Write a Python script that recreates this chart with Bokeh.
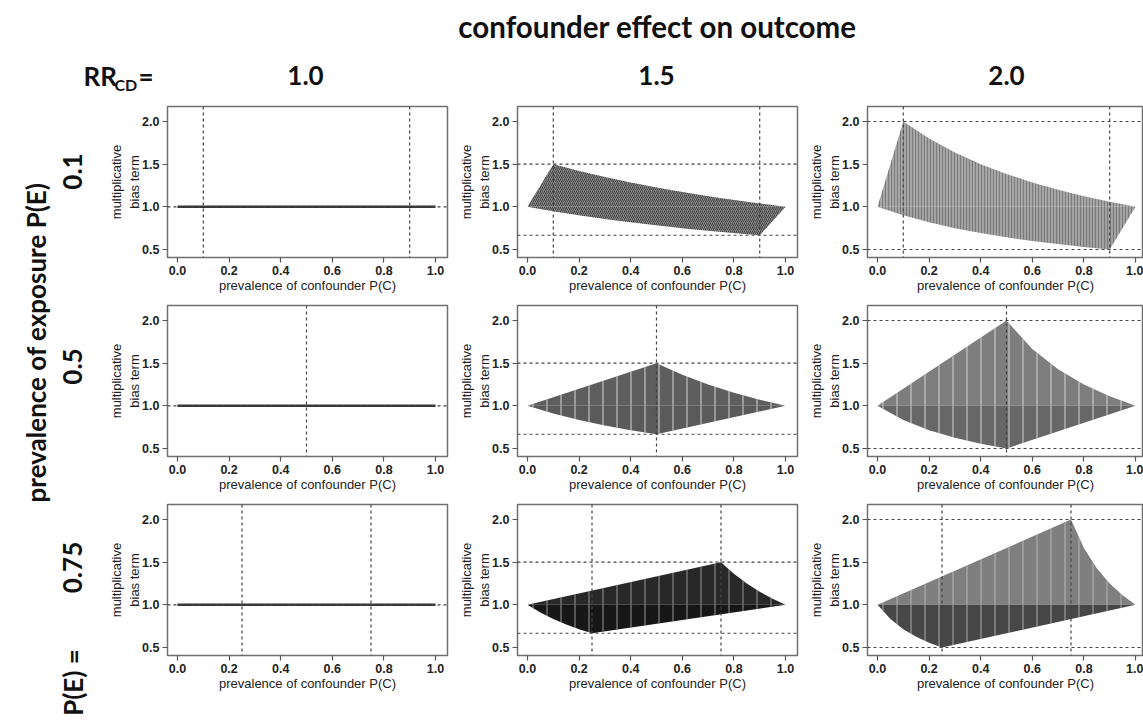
from bokeh.plotting import figure
from bokeh.models import Range1d, Span, FixedTicker, NumeralTickFormatter
from bokeh.layouts import column, row
from bokeh.embed import file_html
from bokeh.resources import INLINE
from bokeh.core.properties import value
import math

# ---------------- data ----------------
PE_LABELS = ["0.1", "0.5", "0.75"]          # prevalence of exposure P(E), rows
RR_LABELS = ["1.0", "1.5", "2.0"]           # RR_CD, columns
X_TICKS = [0.0, 0.2, 0.4, 0.6, 0.8, 1.0]
Y_TICKS = [0.5, 1.0, 1.5, 2.0]

# dashed reference lines: vertical per row, horizontal per column
VLINES = [[0.1, 0.9], [0.5], [0.25, 0.75]]
HLINES = [[1.0], [1.5, 0.667], [2.0, 0.5]]

# no-bias level
NO_BIAS = 1.0

# RR_CD = 1.0 : the bias term is a flat line
flat_x = [0.0, 1.0]
flat_y = [1.0, 1.0]

# P(E) = 0.1
up_x_r1 = [0.0, 0.1, 0.2, 0.3, 0.4, 0.5, 0.6, 0.7, 0.8, 0.9, 1.0]
up_r1_rr15 = [1.0, 1.5, 1.421, 1.35, 1.286, 1.227, 1.174, 1.125, 1.08, 1.038, 1.0]
up_r1_rr20 = [1.0, 2.0, 1.8, 1.636, 1.5, 1.385, 1.286, 1.2, 1.125, 1.059, 1.0]
lo_x_r1 = [0.0, 0.1, 0.2, 0.3, 0.4, 0.5, 0.6, 0.7, 0.8, 0.9, 1.0]
lo_r1_rr15 = [1.0, 0.947, 0.9, 0.857, 0.818, 0.783, 0.75, 0.72, 0.692, 0.667, 1.0]
lo_r1_rr20 = [1.0, 0.9, 0.818, 0.75, 0.692, 0.643, 0.6, 0.563, 0.529, 0.5, 1.0]

# P(E) = 0.5
up_x_r2 = [0.0, 0.5, 0.6, 0.7, 0.8, 0.9, 1.0]
up_r2_rr15 = [1.0, 1.5, 1.364, 1.25, 1.154, 1.071, 1.0]
up_r2_rr20 = [1.0, 2.0, 1.667, 1.429, 1.25, 1.111, 1.0]
lo_x_r2 = [0.0, 0.1, 0.2, 0.3, 0.4, 0.5, 1.0]
lo_r2_rr15 = [1.0, 0.909, 0.833, 0.769, 0.714, 0.667, 1.0]
lo_r2_rr20 = [1.0, 0.833, 0.714, 0.625, 0.556, 0.5, 1.0]

# P(E) = 0.75
up_x_r3 = [0.0, 0.75, 0.8, 0.85, 0.9, 0.95, 1.0]
up_r3_rr15 = [1.0, 1.5, 1.364, 1.25, 1.154, 1.071, 1.0]
up_r3_rr20 = [1.0, 2.0, 1.667, 1.429, 1.25, 1.111, 1.0]
lo_x_r3 = [0.0, 0.05, 0.1, 0.15, 0.2, 0.25, 1.0]
lo_r3_rr15 = [1.0, 0.909, 0.833, 0.769, 0.714, 0.667, 1.0]
lo_r3_rr20 = [1.0, 0.833, 0.714, 0.625, 0.556, 0.5, 1.0]

REGIONS = {
    (0, 1): (up_x_r1, up_r1_rr15, lo_x_r1, lo_r1_rr15),
    (0, 2): (up_x_r1, up_r1_rr20, lo_x_r1, lo_r1_rr20),
    (1, 1): (up_x_r2, up_r2_rr15, lo_x_r2, lo_r2_rr15),
    (1, 2): (up_x_r2, up_r2_rr20, lo_x_r2, lo_r2_rr20),
    (2, 1): (up_x_r3, up_r3_rr15, lo_x_r3, lo_r3_rr15),
    (2, 2): (up_x_r3, up_r3_rr20, lo_x_r3, lo_r3_rr20),
}

# ---------------- styles ----------------
# (upper part fill, lower part fill, hatch options)
STYLE = {
    (0, 1): ("#8a8a8a", "#888888", dict(hatch_pattern="/", hatch_color="#2a2a2a", hatch_scale=4, hatch_weight=1.0, hatch_alpha=0.75)),
    (0, 2): ("#a6a6a6", "#a2a2a2", dict(hatch_pattern="|", hatch_color="#3a3a3a", hatch_scale=3, hatch_weight=0.8, hatch_alpha=0.5)),
    (1, 1): ("#5e5e5e", "#5a5a5a", dict(hatch_pattern="|", hatch_color="#d8d8d8", hatch_scale=14, hatch_weight=1.2, hatch_alpha=0.8)),
    (1, 2): ("#7e7e7e", "#676767", dict(hatch_pattern="|", hatch_color="#d8d8d8", hatch_scale=14, hatch_weight=1.2, hatch_alpha=0.8)),
    (2, 1): ("#282828", "#171717", dict(hatch_pattern="|", hatch_color="#9a9a9a", hatch_scale=14, hatch_weight=1.2, hatch_alpha=0.8)),
    (2, 2): ("#7f7f7f", "#474747", dict(hatch_pattern="|", hatch_color="#c8c8c8", hatch_scale=14, hatch_weight=1.1, hatch_alpha=0.7)),
}

FONT_AX = "Liberation Sans"
FONT_HEAD = "Lato"

XPX = 258.0     # pixels per unit on x
X0 = -10 / XPX  # start of x range
Y0, Y1 = 0.406, 2.176


def make_panel(ri, ci):
    w = [350, 350, 338][ci]
    h = [199, 199, 228][ri]
    fw = 280 if ci < 2 else 276
    p = figure(width=w, height=h,
               x_range=Range1d(X0, X0 + fw / XPX), y_range=Range1d(Y0, Y1),
               output_backend="svg", toolbar_location=None,
               min_border_left=62, min_border_right=(8 if ci < 2 else 0),
               min_border_top=8, min_border_bottom=h - 8 - 151)
    p.grid.visible = False
    p.outline_line_color = "#707070"
    p.outline_line_width = 1.5
    p.background_fill_color = "white"
    p.border_fill_color = "white"
    p.xaxis.ticker = FixedTicker(ticks=X_TICKS)
    p.yaxis.ticker = FixedTicker(ticks=Y_TICKS)
    p.xaxis.formatter = NumeralTickFormatter(format="0.0")
    p.yaxis.formatter = NumeralTickFormatter(format="0.0")
    p.xaxis.axis_label = "prevalence of confounder P(C)"
    p.yaxis.axis_label = "multiplicative\nbias term"
    for ax in (p.xaxis[0], p.yaxis[0]):
        ax.axis_line_color = None
        ax.major_tick_line_color = "#555555"
        ax.major_tick_line_width = 1.2
        ax.major_tick_out = 5
        ax.major_tick_in = 0
        ax.minor_tick_line_color = None
        ax.major_label_text_font = FONT_AX
        ax.major_label_text_font_size = "12.5px"
        ax.major_label_text_font_style = "bold"
        ax.major_label_text_color = "#222222"
        ax.major_label_standoff = 3
        ax.axis_label_text_font = FONT_AX
        ax.axis_label_text_font_size = "13px"
        ax.axis_label_text_font_style = "normal"
        ax.axis_label_text_color = "#222222"
    p.xaxis.axis_label_standoff = 0
    p.yaxis.axis_label_standoff = -3
    p.yaxis.major_label_orientation = "horizontal"

    if ci == 0:
        p.line(flat_x, flat_y, line_color="#333333", line_width=2.5)
    else:
        ux, uy, lx, ly = REGIONS[(ri, ci)]
        c_up, c_lo, hatch = STYLE[(ri, ci)]
        p.varea(x=ux, y1=[NO_BIAS] * len(ux), y2=uy, fill_color=c_up, **hatch)
        p.varea(x=lx, y1=ly, y2=[NO_BIAS] * len(lx), fill_color=c_lo, **hatch)

    for v in VLINES[ri]:
        p.add_layout(Span(location=v, dimension="height", line_color="#444444",
                          line_dash="3 3", line_width=1.2))
    for hv in HLINES[ci]:
        p.add_layout(Span(location=hv, dimension="width", line_color="#444444",
                          line_dash="3 3", line_width=1.2))
    return p


# ---------------- header (page y 0..98) ----------------
header = figure(width=1143, height=98, x_range=Range1d(0, 1143), y_range=Range1d(98, 0),
                output_backend="svg", toolbar_location=None, min_border=0)
header.axis.visible = False
header.grid.visible = False
header.outline_line_color = None
header.text(x=[657], y=[26], text=["confounder effect on outcome"], text_font=value(FONT_HEAD),
            text_font_style="bold", text_font_size="29.5px", text_align="center",
            text_baseline="middle", text_color="#111111")
header.text(x=[83], y=[75], text=["RR"], text_font=value(FONT_HEAD), text_font_style="bold",
            text_font_size="26px", text_align="left", text_baseline="middle", text_color="#111111")
header.text(x=[114], y=[84], text=["CD"], text_font=value(FONT_HEAD), text_font_style="bold",
            text_font_size="16px", text_align="left", text_baseline="middle", text_color="#111111")
header.text(x=[138], y=[75], text=["="], text_font=value(FONT_HEAD), text_font_style="bold",
            text_font_size="26px", text_align="left", text_baseline="middle", text_color="#111111")
header.text(x=[305, 656, 1006], y=[75, 75, 75], text=RR_LABELS, text_font=value(FONT_HEAD),
            text_font_style="bold", text_font_size="26px", text_align="center",
            text_baseline="middle", text_color="#111111")

# ---------------- left labels (page x 0..105, y 98..724) ----------------
left = figure(width=105, height=626, x_range=Range1d(0, 105), y_range=Range1d(724, 98),
              output_backend="svg", toolbar_location=None, min_border=0)
left.axis.visible = False
left.grid.visible = False
left.outline_line_color = None
left.text(x=[35], y=[342], text=["prevalence of exposure P(E)"], angle=math.pi / 2,
          text_font=value(FONT_HEAD), text_font_style="bold", text_font_size="26px",
          text_align="center", text_baseline="middle", text_color="#111111")
left.text(x=[72, 72, 72], y=[171, 366, 567], text=PE_LABELS, angle=math.pi / 2,
          text_font=value(FONT_HEAD), text_font_style="bold", text_font_size="26px",
          text_align="center", text_baseline="middle", text_color="#111111")
left.text(x=[72], y=[682], text=["P(E) ="], angle=math.pi / 2,
          text_font=value(FONT_HEAD), text_font_style="bold", text_font_size="26px",
          text_align="center", text_baseline="middle", text_color="#111111")

rows = [row(*[make_panel(ri, ci) for ci in range(3)], spacing=0) for ri in range(3)]
grid = column(*rows, spacing=0)
layout = column(header, row(left, grid, spacing=0), spacing=0)

open("out.html", "w").write(file_html(layout, INLINE))
